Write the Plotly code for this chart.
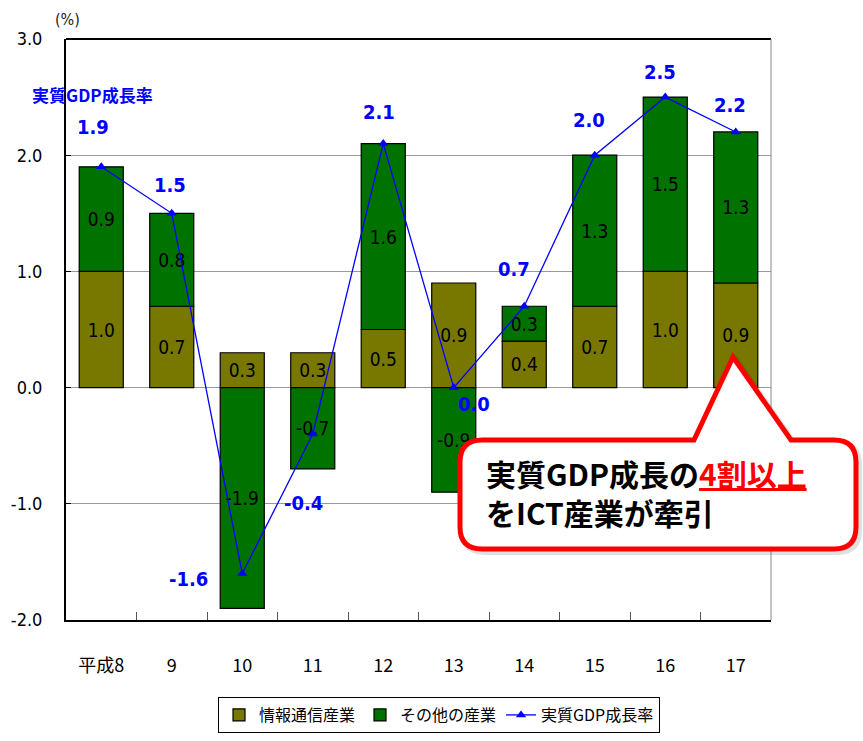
import plotly.graph_objects as go

# 年度（平成）
years = ["平成8", "9", "10", "11", "12", "13", "14", "15", "16", "17"]
# 寄与度（%）
ict_contrib = [1.0, 0.7, 0.3, 0.3, 0.5, 0.9, 0.4, 0.7, 1.0, 0.9]
other_contrib = [0.9, 0.8, -1.9, -0.7, 1.6, -0.9, 0.3, 1.3, 1.5, 1.3]
gdp_growth = [1.9, 1.5, -1.6, -0.4, 2.1, 0.0, 0.7, 2.0, 2.5, 2.2]

y_ticks = [-2, -1, 0, 1, 2, 3]
y_tick_text = ["-2.0", "-1.0", "0.0", "1.0", "2.0", "3.0"]

# 成長率ラベルの表示位置（点からのピクセルずらし）
label_dx = [-8, -2, -54, -9, -4, 20, -10, -6, -5, -6]
label_dy = [40, 28, -5, -69, 32, -16, 37, 35, 25, 27]

OLIVE = "#787800"
GREEN = "#007200"
BLUE = "#0000ff"
NARROW = "Liberation Sans Narrow, Arial Narrow, DejaVu Sans Condensed, Noto Sans CJK JP, sans-serif"
JP = "Noto Sans CJK JP, sans-serif"

W, H = 863, 741
L, R, T, B = 66, 771, 39, 620  # plot area in pixels


def px(x):
    return (x - L) / (R - L)


def py(y):
    return (B - y) / (B - T)


fig = go.Figure()

fig.add_bar(
    x=years, y=ict_contrib, name="情報通信産業",
    marker=dict(color=OLIVE, line=dict(color="black", width=1.2)),
    texttemplate="%{y:.1f}", textposition="inside", insidetextanchor="middle",
    textangle=0, constraintext="none",
    textfont=dict(family=NARROW, size=19, color="black"),
)
fig.add_bar(
    x=years, y=other_contrib, name="その他の産業",
    marker=dict(color=GREEN, line=dict(color="black", width=1.2)),
    texttemplate="%{y:.1f}", textposition="inside", insidetextanchor="middle",
    textangle=0, constraintext="none",
    textfont=dict(family=NARROW, size=19, color="black"),
)
fig.add_scatter(
    x=years, y=gdp_growth, name="実質GDP成長率", mode="lines+markers",
    line=dict(color=BLUE, width=1.3),
    marker=dict(symbol="triangle-up", size=9, color=BLUE),
)

# 成長率の数値ラベル（カテゴリ位置はインデックスで指定）
for i, (v, dx, dy) in enumerate(zip(gdp_growth, label_dx, label_dy)):
    fig.add_annotation(
        x=i, y=v, xref="x", yref="y", text=f"<b>{v:.1f}</b>", showarrow=False,
        xshift=dx, yshift=dy,
        font=dict(family=NARROW, size=20, color=BLUE),
    )

fig.add_annotation(
    x=px(92), y=py(94), xref="paper", yref="paper", xanchor="center", yanchor="middle",
    text="<b>実質GDP成長率</b>", showarrow=False,
    font=dict(family="Liberation Sans Narrow, Noto Sans CJK JP, sans-serif", size=17, color=BLUE),
)
fig.add_annotation(
    x=px(67), y=py(19), xref="paper", yref="paper", xanchor="center", yanchor="middle",
    text="(%)", showarrow=False,
    font=dict(family=NARROW, size=16, color="#222"),
)

# 枠線（上：黒、右：灰）
fig.add_shape(type="line", xref="paper", yref="paper", x0=0, x1=1, y0=1, y1=1,
              line=dict(color="black", width=2))
fig.add_shape(type="line", xref="paper", yref="paper", x0=1, x1=1, y0=0, y1=1,
              line=dict(color="#888", width=1))

# 吹き出し
bl, br, bt, bb, r = 460, 856, 440, 549, 22
tip_l, tip_x, tip_y, tip_r = 694, 733, 357, 791
pts = [
    ("M", (bl + r, bt)), ("L", (tip_l, bt)), ("L", (tip_x, tip_y)), ("L", (tip_r, bt)),
    ("L", (br - r, bt)), ("Q", (br, bt), (br, bt + r)),
    ("L", (br, bb - r)), ("Q", (br, bb), (br - r, bb)),
    ("L", (bl + r, bb)), ("Q", (bl, bb), (bl, bb - r)),
    ("L", (bl, bt + r)), ("Q", (bl, bt), (bl + r, bt)),
]


def build_path(offset=(0, 0)):
    ox, oy = offset
    parts = []
    for cmd, *coords in pts:
        parts.append(cmd + " " + " ".join(f"{px(x + ox):.5f},{py(y + oy):.5f}" for x, y in coords))
    return " ".join(parts) + " Z"


fig.add_shape(type="path", xref="paper", yref="paper", path=build_path((3, 3)),
              line=dict(color="rgba(0,0,0,0.12)", width=6), fillcolor="rgba(0,0,0,0)")
fig.add_shape(type="path", xref="paper", yref="paper", path=build_path(),
              line=dict(color="#ff0000", width=5), fillcolor="white")

fig.add_annotation(
    x=px(484), y=py(492), xref="paper", yref="paper", xanchor="left", yanchor="middle",
    align="left", showarrow=False,
    text="<b>実質GDP成長の<span style='color:#ff0000'><u>4割以上</u></span><br>をICT産業が牽引</b>",
    font=dict(family=JP, size=30, color="black"),
)

fig.update_layout(
    width=W, height=H,
    margin=dict(l=L, r=W - R, t=T, b=H - B, autoexpand=False),
    plot_bgcolor="white", paper_bgcolor="white",
    barmode="relative", bargap=0.375,
    showlegend=True,
    legend=dict(
        orientation="h", x=px(218), xanchor="left", y=py(697), yanchor="top",
        bordercolor="black", borderwidth=1, bgcolor="white",
        font=dict(family="Liberation Sans Narrow, Noto Sans CJK JP, sans-serif", size=16, color="black"),
        itemwidth=30, traceorder="normal",
    ),
    xaxis=dict(
        type="category", categoryorder="array", categoryarray=years,
        range=[-0.5, len(years) - 0.5], autorange=False,
        showline=True, linecolor="black", linewidth=2,
        ticks="inside", tickson="boundaries", ticklen=8, tickcolor="#555", tickwidth=1,
        ticklabelstandoff=28, tickangle=0,
        tickfont=dict(family="Liberation Sans Narrow, Noto Sans CJK JP, sans-serif", size=18, color="black"),
        showgrid=False,
    ),
    yaxis=dict(
        range=[-2, 3], tickvals=y_ticks, ticktext=y_tick_text,
        showline=True, linecolor="black", linewidth=2,
        ticks="inside", ticklen=5, tickcolor="black",
        ticklabelstandoff=18,
        tickfont=dict(family=NARROW, size=18, color="black"),
        showgrid=True, gridcolor="#999", gridwidth=1, zeroline=False,
    ),
)

fig.write_html("out.html")
